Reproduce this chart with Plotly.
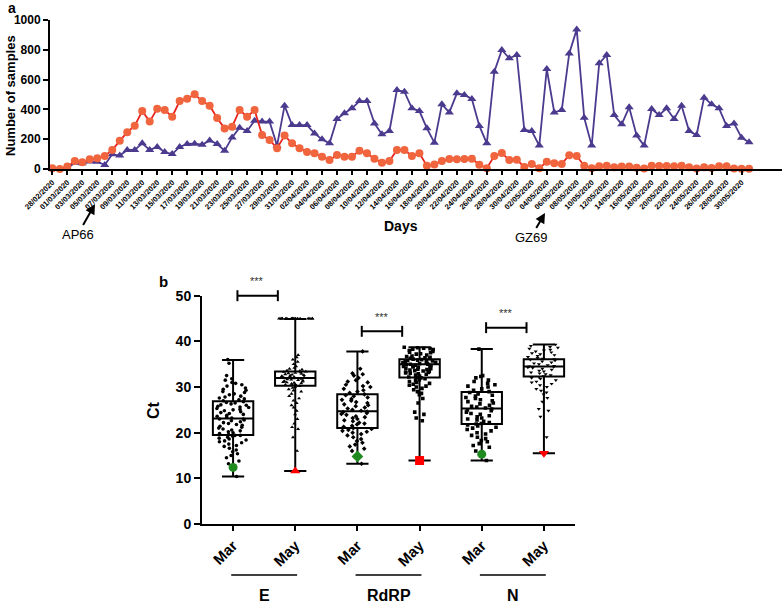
import pandas as pd
import plotly.graph_objects as go

# ---------------- Panel a data ----------------
start_date = "2020-02-28"
red_counts = [5, 0, 16, 54, 45, 65, 72, 87, 128, 190, 247, 290, 389, 318, 405, 396, 351, 456, 472, 501,
              456, 425, 342, 271, 284, 396, 351, 396, 228, 195, 139, 224, 172, 139, 114, 105, 83, 60, 94, 83,
              83, 123, 105, 69, 42, 54, 128, 128, 87, 105, 22, 31, 54, 67, 65, 67, 69, 29, 5, 88,
              107, 60, 62, 14, 34, 5, 49, 38, 34, 93, 87, 22, 5, 18, 22, 11, 16, 16, 9, 4,
              22, 20, 20, 18, 22, 11, 4, 11, 7, 18, 18, 4, 2, 2]
blue_counts = [0, 0, 5, 42, 38, 50, 49, 27, 99, 90, 128, 128, 172, 128, 148, 114, 100, 148, 168, 170,
               163, 192, 168, 123, 212, 277, 255, 324, 318, 318, 157, 425, 295, 295, 295, 239, 199, 172, 336, 374,
               407, 456, 456, 306, 233, 255, 530, 519, 407, 389, 273, 177, 434, 380, 508, 497, 470, 289, 172, 653,
               799, 743, 765, 262, 255, 157, 671, 380, 396, 776, 937, 344, 157, 709, 765, 362, 300, 414, 224, 157,
               403, 362, 407, 336, 425, 255, 228, 479, 434, 407, 289, 306, 210, 179]
dates = pd.date_range(start_date, periods=len(red_counts), freq="D")
date_ticks = list(dates[:-1:2])          # 28/02 ... 30/05, every second day
y_ticks_a = [0, 200, 400, 600, 800, 1000]

# ---------------- Panel b data ----------------
genes = ["E", "RdRP", "N"]
months = ["Mar", "May"]
q1_vals = [19.5, 30.3, 21.0, 32.1, 21.9, 32.3]
median_vals = [23.1, 32.0, 24.7, 35.0, 25.3, 34.5]
q3_vals = [26.9, 33.4, 28.4, 36.1, 28.9, 36.1]
low_vals = [10.4, 11.6, 13.2, 13.9, 13.9, 15.5]
high_vals = [35.9, 44.9, 37.8, 38.7, 38.3, 39.3]

e_mar = [36.0, 35.2, 32.5, 31.8, 31.5, 31.0, 30.8, 30.5, 30.2, 29.8, 29.5, 29.3, 29.0, 28.8, 28.5, 28.3,
         28.0, 27.8, 27.6, 27.4, 27.2, 27.0, 26.8, 26.6, 26.5, 26.3, 26.1, 26.0, 25.8, 25.6, 25.5, 25.3,
         25.1, 25.0, 24.8, 24.6, 24.4, 24.2, 24.0, 23.8, 23.6, 23.4, 23.2, 23.0, 23.0, 22.8, 22.6, 22.4,
         22.2, 22.0, 21.8, 21.6, 21.4, 21.2, 21.0, 20.8, 20.6, 20.4, 20.2, 20.0, 19.8, 19.6, 19.4, 19.4,
         19.2, 19.0, 18.8, 18.6, 18.4, 18.2, 18.0, 17.8, 17.5, 17.2, 17.0, 16.6, 16.2, 15.8, 15.4, 15.0,
         14.5, 13.8, 13.2, 10.4]
e_may = [45.0, 45.0, 45.0, 45.0, 45.0, 45.0, 45.0, 45.0, 45.0, 45.0, 45.0, 45.0, 45.0, 45.0, 45.0, 45.0,
         45.0, 45.0, 37.0, 36.5, 36.0, 35.5, 35.0, 34.5, 34.2, 34.0, 33.8, 33.6, 33.5, 33.4, 33.3, 33.2,
         33.1, 33.0, 32.9, 32.8, 32.7, 32.6, 32.5, 32.4, 32.3, 32.2, 32.1, 32.0, 32.0, 31.9, 31.8, 31.7,
         31.6, 31.5, 31.4, 31.3, 31.2, 31.1, 31.0, 30.9, 30.8, 30.7, 30.6, 30.5, 30.4, 30.3, 30.2, 30.0,
         29.8, 29.5, 29.2, 29.0, 28.5, 28.0, 27.5, 27.0, 26.5, 26.0, 25.5, 24.8, 24.0, 23.0, 22.0, 21.2,
         20.8, 19.0, 16.0]
rdrp_mar = [37.8, 34.0, 33.0, 32.8, 32.5, 32.0, 31.5, 31.2, 31.0, 30.5, 30.2, 30.0, 29.6, 29.3, 29.0, 28.7,
            28.4, 28.2, 28.0, 27.7, 27.4, 27.2, 27.0, 26.7, 26.5, 26.2, 26.0, 25.8, 25.5, 25.3, 25.0, 24.8,
            24.6, 24.5, 24.3, 24.1, 23.9, 23.6, 23.4, 23.2, 23.0, 22.7, 22.5, 22.2, 22.0, 21.8, 21.5, 21.3,
            21.0, 20.8, 20.6, 20.4, 20.2, 20.0, 19.7, 19.4, 19.0, 18.6, 18.2, 17.8, 17.4, 17.0, 16.5, 16.0,
            13.2]
rdrp_may = [38.7, 38.6, 38.5, 38.4, 38.3, 38.2, 38.0, 37.8, 37.6, 37.5, 37.3, 37.2, 37.0, 36.8, 36.7, 36.5,
            36.4, 36.3, 36.2, 36.1, 36.0, 35.9, 35.8, 35.7, 35.6, 35.5, 35.4, 35.3, 35.2, 35.1, 35.0, 35.0,
            34.9, 34.8, 34.7, 34.6, 34.5, 34.4, 34.3, 34.2, 34.1, 34.0, 33.9, 33.8, 33.7, 33.6, 33.5, 33.4,
            33.3, 33.2, 33.1, 33.0, 32.9, 32.8, 32.6, 32.4, 32.2, 32.1, 32.0, 31.8, 31.6, 31.4, 31.2, 31.0,
            30.8, 30.6, 30.4, 30.2, 30.0, 29.7, 29.4, 29.0, 28.6, 28.3, 27.5, 26.5, 24.5, 24.0, 23.2, 22.6]
n_mar = [38.3, 32.5, 32.3, 32.0, 31.5, 31.2, 30.8, 30.5, 30.2, 30.0, 29.6, 29.3, 29.0, 28.8, 28.5, 28.2,
         28.0, 27.7, 27.5, 27.2, 27.0, 26.8, 26.5, 26.3, 26.0, 25.8, 25.6, 25.4, 25.2, 25.0, 24.8, 24.5,
         24.2, 24.0, 23.7, 23.5, 23.2, 23.0, 22.8, 22.5, 22.2, 22.0, 21.9, 21.7, 21.5, 21.2, 21.0, 20.7,
         20.4, 20.0, 19.7, 19.4, 19.0, 18.7, 18.3, 18.0, 17.6, 17.2, 16.8, 16.0, 13.9]
n_may = [39.3, 39.0, 38.8, 38.6, 38.4, 38.2, 38.0, 37.8, 37.6, 37.4, 37.2, 37.0, 36.8, 36.6, 36.4, 36.2,
         36.1, 36.0, 35.8, 35.6, 35.4, 35.2, 35.0, 34.8, 34.6, 34.5, 34.4, 34.3, 34.2, 34.0, 33.8, 33.6,
         33.4, 33.2, 33.0, 32.8, 32.6, 32.4, 32.2, 32.0, 31.8, 31.5, 31.2, 31.0, 30.7, 30.4, 30.0, 29.6,
         29.2, 28.8, 28.4, 27.6, 26.8, 25.2, 24.8, 23.5, 19.0]
samples = [e_mar, e_may, rdrp_mar, rdrp_may, n_mar, n_may]
point_symbols = ["circle", "triangle-up", "diamond", "square", "square", "triangle-down"]
# highlighted isolates (AP66 in March, GZ69 in May)
special_ct = [12.4, 11.6, 14.8, 13.9, 15.3, 15.5]
special_symbols = ["circle", "triangle-up", "diamond", "square", "circle", "triangle-down"]
special_colors = ["#1f8a1f", "#ff0000", "#1f8a1f", "#ff0000", "#1f8a1f", "#ff0000"]
sig_levels = [50.0, 42.2, 43.0]
sig_text = ["***", "***", "***"]
y_ticks_b = [0, 10, 20, 30, 40, 50]

W, H = 784, 603
FONT = "Liberation Sans, Arial, sans-serif"

fig = go.Figure()

# ---------------- Panel a ----------------
fig.add_trace(go.Scatter(
    x=dates, y=blue_counts, mode="lines+markers", xaxis="x", yaxis="y",
    line=dict(color="#4b3a8e", width=1.8),
    marker=dict(symbol="triangle-up", size=8, color="#4b3a8e"),
    showlegend=False, cliponaxis=False))
fig.add_trace(go.Scatter(
    x=dates, y=red_counts, mode="lines+markers", xaxis="x", yaxis="y",
    line=dict(color="#e8231c", width=1.8),
    marker=dict(symbol="circle", size=8, color="#f0643e"),
    showlegend=False, cliponaxis=False))

# ---------------- Panel b ----------------
positions = list(range(len(samples)))
for p in positions:
    fig.add_trace(go.Box(
        x=[p], q1=[q1_vals[p]], median=[median_vals[p]], q3=[q3_vals[p]],
        lowerfence=[low_vals[p]], upperfence=[high_vals[p]],
        xaxis="x2", yaxis="y2", boxpoints=False, width=0.65, whiskerwidth=0.55,
        line=dict(color="black", width=2), fillcolor="rgba(255,255,255,0)",
        showlegend=False, hoverinfo="skip"))
for p in positions:
    fig.add_trace(go.Box(
        y=samples[p], x0=p, xaxis="x2", yaxis="y2", boxpoints="all", jitter=0.85,
        pointpos=0, width=0.65,
        line=dict(color="rgba(0,0,0,0)", width=0), fillcolor="rgba(0,0,0,0)",
        marker=dict(symbol=point_symbols[p], size=3.6, color="black"),
        showlegend=False))
for p in positions:
    fig.add_trace(go.Scatter(
        x=[p], y=[special_ct[p]], mode="markers", xaxis="x2", yaxis="y2",
        marker=dict(symbol=special_symbols[p], size=9, color=special_colors[p]),
        showlegend=False, cliponaxis=False))

# axes geometry (pixels -> paper)
xa_dom = [50 / W, 782 / W]
ya_dom = [1 - 169 / H, 1 - 20 / H]
xb_dom = [202 / W, 575 / W]
yb_dom = [1 - 524 / H, 1 - 295.7 / H]

day = pd.Timedelta(days=1)
bold = dict(family=FONT, color="black", weight="bold")

fig.update_layout(
    width=W, height=H, margin=dict(l=0, r=0, t=0, b=0, autoexpand=False),
    paper_bgcolor="white", plot_bgcolor="white",
    boxmode="overlay", showlegend=False,
    font=dict(family=FONT, color="black"),
    xaxis=dict(domain=xa_dom, anchor="y", type="date", automargin=False,
               range=[dates[0] - 0.31 * day, dates[0] + 97.4 * day],
               tickvals=date_ticks, tickformat="%d/%m/%Y",
               tickangle=-45, tickfont=dict(size=7.6, **bold),
               ticks="outside", ticklen=4, tickwidth=1.5, tickcolor="black",
               showline=True, linecolor="black", linewidth=2,
               showgrid=False, zeroline=False),
    yaxis=dict(domain=ya_dom, anchor="x", range=[0, 1000], tickvals=y_ticks_a, automargin=False,
               tickfont=dict(size=12, **bold),
               ticks="outside", ticklen=5, tickwidth=2, tickcolor="black",
               showline=True, linecolor="black", linewidth=2,
               showgrid=False, zeroline=False),
    xaxis2=dict(domain=xb_dom, anchor="y2", range=[-0.5, len(samples) - 0.5], automargin=False,
                tickvals=positions, ticktext=months * len(genes),
                tickangle=-45, tickfont=dict(size=15, **bold),
                ticks="outside", ticklen=5, tickwidth=2, tickcolor="black",
                showline=True, linecolor="black", linewidth=2,
                showgrid=False, zeroline=False),
    yaxis2=dict(domain=yb_dom, anchor="x2", range=[0, 50], tickvals=y_ticks_b, automargin=False,
                tickfont=dict(size=14, **bold),
                ticks="outside", ticklen=6, tickwidth=2, tickcolor="black",
                showline=True, linecolor="black", linewidth=2,
                showgrid=False, zeroline=False),
)

ann = []
shapes = []
C = dict(xanchor="center", yanchor="middle")
ann.append(dict(text="a", x=12 / W, y=1 - 8 / H, xref="paper", yref="paper",
                showarrow=False, font=dict(size=14, **bold), **C))
ann.append(dict(text="Number of samples", x=11 / W, y=1 - 96 / H, xref="paper", yref="paper",
                textangle=-90, showarrow=False, font=dict(size=13, **bold), **C))
ann.append(dict(text="Days", x=401 / W, y=1 - 226 / H, xref="paper", yref="paper",
                showarrow=False, font=dict(size=14, **bold), **C))
ann.append(dict(text="AP66", x=95 / W, y=1 - 204 / H, xref="paper", yref="paper",
                ax=-17, ay=30, showarrow=True, arrowhead=2, arrowsize=1, arrowwidth=2,
                arrowcolor="black", standoff=0, font=dict(size=13, family=FONT, color="black")))
ann.append(dict(text="GZ69", x=545 / W, y=1 - 213 / H, xref="paper", yref="paper",
                ax=-14, ay=24, showarrow=True, arrowhead=2, arrowsize=1, arrowwidth=2,
                arrowcolor="black", standoff=0, font=dict(size=13, family=FONT, color="black")))
ann.append(dict(text="b", x=163 / W, y=1 - 281 / H, xref="paper", yref="paper",
                showarrow=False, font=dict(size=15, **bold), **C))
ann.append(dict(text="Ct", x=153 / W, y=1 - 410 / H, xref="paper", yref="paper",
                textangle=-90, showarrow=False, font=dict(size=16, **bold), **C))

for g, gene in enumerate(genes):
    p0 = 2 * g
    ann.append(dict(text=gene, x=p0 + 0.5, y=1 - 595 / H, xref="x2", yref="paper",
                    showarrow=False, font=dict(size=16, **bold), **C))
    shapes.append(dict(type="line", xref="x2", yref="paper", x0=p0 - 0.03, x1=p0 + 1.03,
                       y0=1 - 575 / H, y1=1 - 575 / H, line=dict(color="black", width=1.5)))
    lvl = sig_levels[g] / 50.0
    shapes.append(dict(type="line", xref="x2", yref="y2 domain", x0=p0 + 0.07, x1=p0 + 0.72,
                       y0=lvl, y1=lvl, line=dict(color="black", width=2)))
    for xe in (p0 + 0.07, p0 + 0.72):
        shapes.append(dict(type="line", xref="x2", yref="y2 domain", x0=xe, x1=xe,
                           y0=lvl - 0.024, y1=lvl + 0.024, line=dict(color="black", width=2)))
    ann.append(dict(text=sig_text[g], x=p0 + 0.39, y=lvl + 0.028, xref="x2", yref="y2 domain",
                    xanchor="center", yanchor="bottom", showarrow=False,
                    font=dict(size=11, family=FONT, color="#333333")))

fig.update_layout(annotations=ann, shapes=shapes)
fig.write_html("out.html", config={"displayModeBar": False},
               post_script="document.body.style.margin='0px';document.body.style.overflow='hidden';")
